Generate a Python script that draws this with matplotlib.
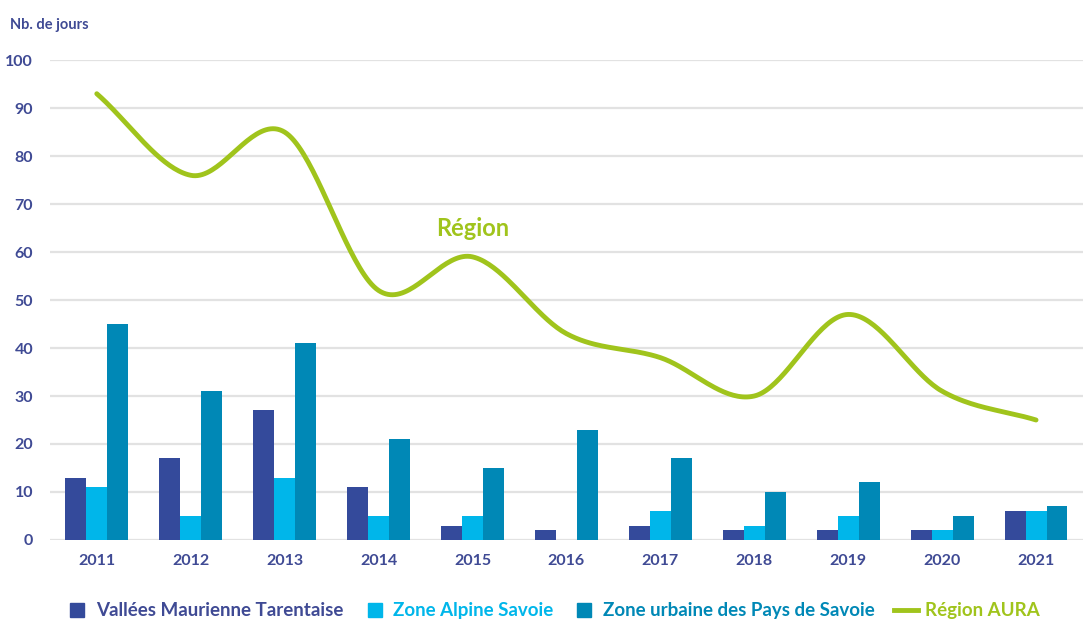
import numpy as np
from matplotlib import pyplot as plt
from matplotlib.lines import Line2D

years = ['2011', '2012', '2013', '2014', '2015', '2016', '2017', '2018', '2019', '2020', '2021']
vallees = [13, 17, 27, 11, 3, 2, 3, 2, 2, 2, 6]
alpine = [11, 5, 13, 5, 5, 0, 6, 3, 5, 2, 6]
urbaine = [45, 31, 41, 21, 15, 23, 17, 10, 12, 5, 7]
region = [93, 76, 85, 52, 59, 43, 38, 30, 47, 31, 25]

labels = ['Vallées Maurienne Tarentaise', 'Zone Alpine Savoie',
          'Zone urbaine des Pays de Savoie', 'Région AURA']
colors = ['#344a9b', '#00b6ea', '#0088b6', '#a0c41c']
txt = '#3f4a94'

plt.rcParams['font.family'] = ['Lato', 'DejaVu Sans']
plt.rcParams['font.weight'] = 'bold'


def smooth(xs, ys, n=40):
    # catmull-rom curve through the points (like a spreadsheet "smoothed line")
    p = np.column_stack([xs, ys]).astype(float)
    p = np.vstack([2 * p[0] - p[1], p, 2 * p[-1] - p[-2]])
    out = []
    for i in range(1, len(p) - 2):
        p0, p1, p2, p3 = p[i-1], p[i], p[i+1], p[i+2]
        t = np.linspace(0, 1, n, endpoint=(i == len(p) - 3))[:, None]
        seg = 0.5 * (2 * p1 + (p2 - p0) * t + (2*p0 - 5*p1 + 4*p2 - p3) * t**2
                     + (-p0 + 3*p1 - 3*p2 + p3) * t**3)
        out.append(seg)
    out = np.vstack(out)
    return out[:, 0], out[:, 1]


fig = plt.figure(figsize=(10.83, 6.33), dpi=100)
ax = fig.add_axes([0.046, 0.147, 0.954, 0.758])

x = np.arange(len(years))
w = 0.223
ax.bar(x - w, vallees, w, color=colors[0], zorder=2)
ax.bar(x, alpine, w, color=colors[1], zorder=2)
ax.bar(x + w, urbaine, w, color=colors[2], zorder=2)

sx, sy = smooth(x, region)
ax.plot(sx, sy, color=colors[3], lw=3.5, zorder=3, solid_capstyle='round')
ax.text(4, 65, 'Région', color=colors[3], fontsize=17, fontweight='bold',
        ha='center', va='center')

ax.set_xlim(-0.5, 10.5)
ax.set_ylim(0, 100)
ax.set_yticks(range(0, 101, 10))
ax.set_xticks(x)
ax.set_xticklabels(years)
ax.yaxis.grid(True, color='#e2e2e2', lw=1.6, zorder=0)
ax.set_axisbelow(True)
for s in ax.spines.values():
    s.set_visible(False)
ax.tick_params(length=0, colors=txt, labelsize=11.5)
ax.tick_params(axis='y', pad=12)
ax.tick_params(axis='x', pad=10)

fig.text(0.009, 0.96, 'Nb. de jours', color=txt, fontsize=10.5,
         fontweight='bold', va='center')

handles = [Line2D([], [], marker='s', ls='', color=c, markersize=10) for c in colors[:3]]
handles.append(Line2D([], [], color=colors[3], lw=3.5))
leg = fig.legend(handles, labels, loc='center', bbox_to_anchor=(0.51, 0.035),
                 ncol=4, frameon=False, fontsize=13.5, handlelength=1.3,
                 handletextpad=0.35, columnspacing=1.0)
for t, c in zip(leg.get_texts(), [txt, colors[1], colors[2], colors[3]]):
    t.set_color(c)

fig.savefig('out.png', dpi=100)
